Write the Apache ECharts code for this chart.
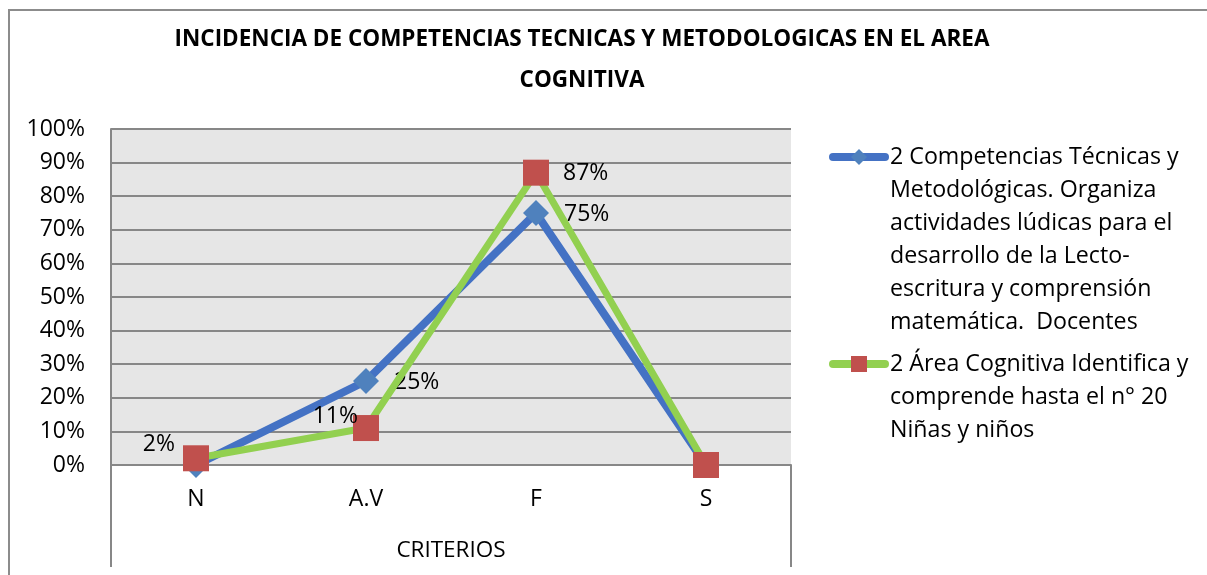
<!DOCTYPE html>
<html>
<head>
<meta charset="utf-8">
<script src="https://cdn.jsdelivr.net/npm/echarts@6/dist/echarts.min.js"></script>
<style>
html,body{margin:0;padding:0;background:#fff;}
#chart{width:1207px;height:575px;}
</style>
</head>
<body>
<div id="chart"></div>
<script>
const titleText = 'INCIDENCIA DE COMPETENCIAS TECNICAS Y METODOLOGICAS EN EL AREA\nCOGNITIVA';
const categories = ['N', 'A.V', 'F', 'S'];
const axisName = 'CRITERIOS';
const seriesNames = [
  '2 Competencias Técnicas y\nMetodológicas. Organiza\nactividades lúdicas para el\ndesarrollo de la Lecto-\nescritura y comprensión\nmatemática.  Docentes',
  '2 Área Cognitiva Identifica y\ncomprende hasta el n° 20\nNiñas y niños'
];
const competenciasDocentes = [0, 0.25, 0.75, 0];
const areaCognitivaNinos = [0.02, 0.11, 0.87, 0];
const yTicks = [0, 0.1, 0.2, 0.3, 0.4, 0.5, 0.6, 0.7, 0.8, 0.9, 1];

const FONT = '"Open Sans", Lato, sans-serif';
const GRID = {left: 111, right: 416, top: 129, bottom: 110};
const LINE_H = 33;
const GRAY = '#878787';

function pct(v) { return Math.round(v * 100) + '%'; }

const chart = echarts.init(document.getElementById('chart'), null, {renderer: 'canvas'});

// Legend text is vertically centred on its icon; blank lines placed before the
// name put the first text line level with the icon, as in the reference.
function legendFor(i, iconY) {
  const n = seriesNames[i].split('\n').length;
  const pad = '\n'.repeat(n - 1);
  return {
    data: [seriesNames[i]],
    left: 829,
    top: iconY - (2 * n - 1) * LINE_H / 2,
    padding: 0,
    itemWidth: 52,
    itemHeight: 20,
    lineStyle: {width: 8, cap: 'round'},
    selectedMode: false,
    formatter: name => pad + name,
    textStyle: {fontFamily: FONT, fontSize: 23.2, color: '#000', lineHeight: LINE_H}
  };
}

const option = {
  animation: false,
  backgroundColor: '#fff',
  title: {
    text: titleText,
    left: 582,
    top: 19,
    textAlign: 'center',
    padding: 0,
    textStyle: {fontFamily: FONT, fontSize: 22.5, fontWeight: 'bold', color: '#000', lineHeight: 41}
  },
  legend: [legendFor(0, 157), legendFor(1, 364)],
  grid: Object.assign({show: true, backgroundColor: '#e6e6e6', borderWidth: 0, containLabel: false}, GRID),
  xAxis: {
    type: 'category',
    data: categories,
    boundaryGap: true,
    name: axisName,
    nameLocation: 'middle',
    nameGap: 75,
    nameTextStyle: {fontFamily: FONT, fontSize: 22.5, color: '#000', lineHeight: 22},
    axisLine: {show: true, lineStyle: {color: GRAY, width: 2}},
    axisTick: {show: false},
    axisLabel: {fontFamily: FONT, fontSize: 23, color: '#000', margin: 23, lineHeight: 22}
  },
  yAxis: {
    type: 'value',
    min: yTicks[0],
    max: yTicks[yTicks.length - 1],
    interval: yTicks[1] - yTicks[0],
    axisLine: {show: true, lineStyle: {color: GRAY, width: 2}},
    axisTick: {show: false},
    splitLine: {show: true, lineStyle: {color: GRAY, width: 2}},
    axisLabel: {fontFamily: FONT, fontSize: 23, color: '#000', margin: 26, formatter: pct}
  },
  series: [
    {
      name: seriesNames[0],
      type: 'line',
      data: competenciasDocentes,
      symbol: 'diamond',
      symbolSize: 26,
      z: 2,
      lineStyle: {color: '#4472C4', width: 8},
      itemStyle: {color: '#4F81BD'},
      label: {
        show: true, position: 'right', distance: 15, offset: [0, 1],
        fontFamily: FONT, fontSize: 23, color: '#000',
        formatter: p => p.value ? pct(p.value) : ''
      }
    },
    {
      name: seriesNames[1],
      type: 'line',
      data: areaCognitivaNinos.map((v, i) => ({
        value: v,
        label: i < 2
          ? {position: 'left', distance: 5, offset: i === 0 ? [-3, -14] : [10, -12]}
          : {position: 'right', distance: 5, offset: [9, 1]}
      })),
      symbol: 'rect',
      symbolSize: 26,
      z: 3,
      lineStyle: {color: '#92D050', width: 7},
      itemStyle: {color: '#C0504D'},
      label: {
        show: true,
        fontFamily: FONT, fontSize: 23, color: '#000',
        formatter: p => p.value ? pct(p.value) : ''
      }
    }
  ],
  graphic: [
    {type: 'rect', silent: true, z: -10, shape: {x: 9, y: 10, width: 1300, height: 700},
     style: {fill: 'none', stroke: '#8c8c8c', lineWidth: 2}},
    {type: 'line', silent: true, shape: {x1: 111, y1: 465, x2: 111, y2: 567},
     style: {stroke: GRAY, lineWidth: 2}},
    {type: 'line', silent: true, shape: {x1: 791, y1: 465, x2: 791, y2: 567},
     style: {stroke: GRAY, lineWidth: 2}}
  ]
};

chart.setOption(option);
</script>
</body>
</html>
